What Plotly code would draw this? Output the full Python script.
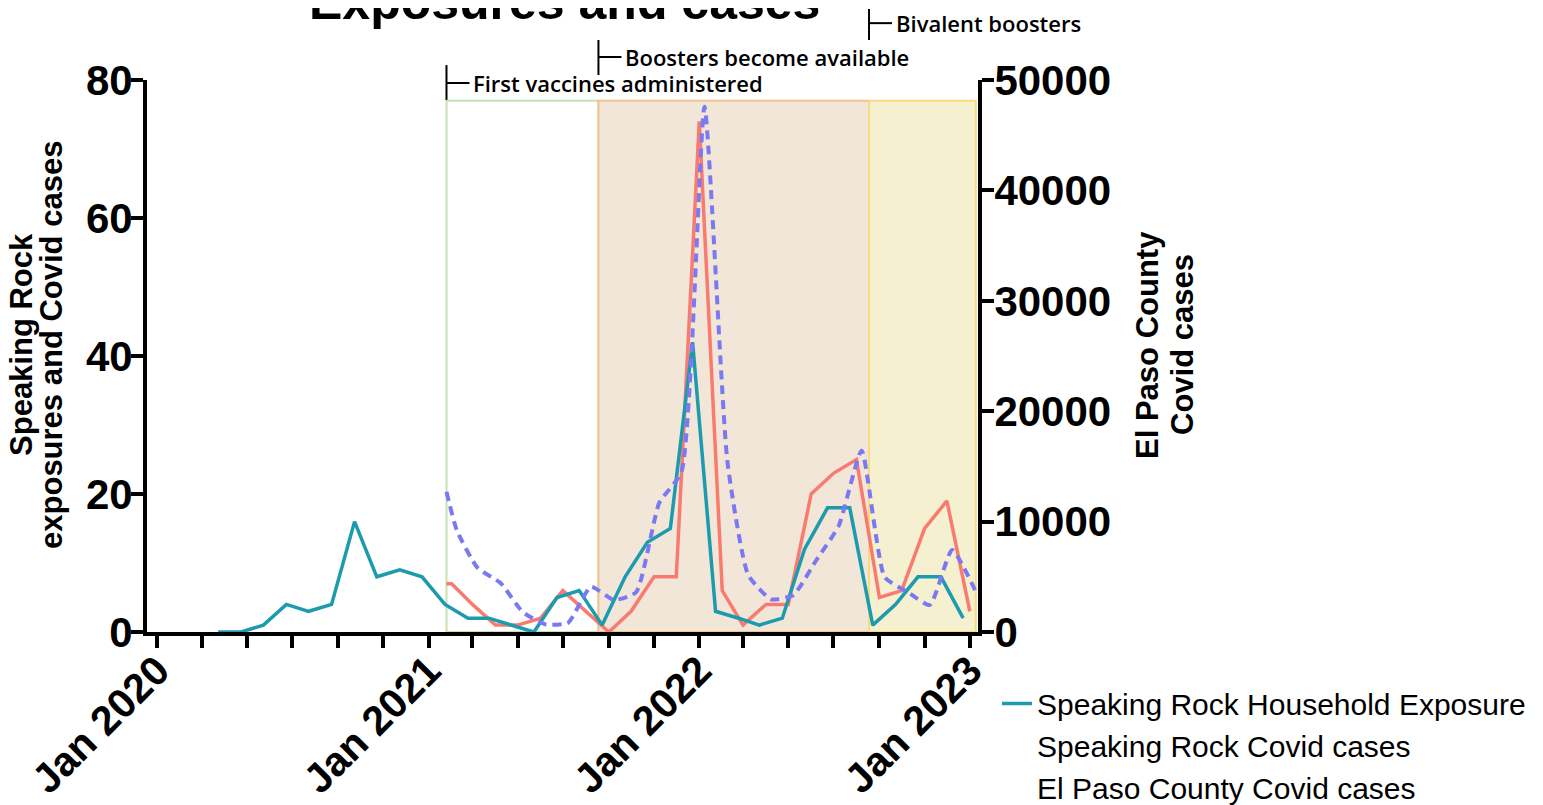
import plotly.graph_objects as go
import pandas as pd

# ---------------- data ----------------
exposure_dates = [
    "2020-03-23", "2020-04-23", "2020-05-23", "2020-06-23", "2020-07-23", "2020-08-23",
    "2020-09-23", "2020-10-23", "2020-11-23", "2020-12-23",
    "2021-01-23", "2021-02-23", "2021-03-23", "2021-04-23", "2021-05-23", "2021-06-23",
    "2021-07-23", "2021-08-23", "2021-09-23", "2021-10-23", "2021-11-23", "2021-12-23",
    "2022-01-23", "2022-02-23", "2022-03-23", "2022-04-23", "2022-05-23", "2022-06-23",
    "2022-07-23", "2022-08-23", "2022-09-23", "2022-10-23", "2022-11-23", "2022-12-23",
]
household_exposure = [0, 0, 1, 4, 3, 4, 16, 8, 9, 8,
                      4, 2, 2, 1, 0, 5, 6, 1, 8, 13, 15, 42,
                      3, 2, 1, 2, 12, 18, 18, 1, 4, 8, 8, 2]

sr_case_dates = [
    "2021-01-25", "2021-02-01", "2021-03-01", "2021-04-01", "2021-05-01", "2021-06-01",
    "2021-07-01", "2021-08-01", "2021-09-01", "2021-10-01", "2021-11-01", "2021-12-01",
    "2022-01-01", "2022-02-01", "2022-03-01", "2022-04-01", "2022-05-01", "2022-06-01",
    "2022-07-01", "2022-08-01", "2022-09-01", "2022-10-01", "2022-11-01", "2022-12-01",
    "2023-01-01",
]
sr_cases = [7, 7, 4, 1, 1, 2, 6, 3, 0, 3, 8, 8,
            74, 6, 1, 4, 4, 20, 23, 25, 5, 6, 15, 19, 3]

ep_case_dates = [
    "2021-01-25", "2021-02-08", "2021-03-08", "2021-04-08", "2021-05-08", "2021-06-08",
    "2021-07-08", "2021-08-08", "2021-09-08", "2021-10-08", "2021-11-08", "2021-12-08",
    "2022-01-08", "2022-02-08", "2022-03-08", "2022-04-08", "2022-05-08", "2022-06-08",
    "2022-07-08", "2022-08-08", "2022-09-08", "2022-10-08", "2022-11-08", "2022-12-08",
    "2023-01-08",
]
ep_cases = [12700, 9200, 5800, 4440, 1800, 680, 840, 4100, 2900, 3620, 11690, 14500,
            47580, 15400, 5160, 2960, 3350, 6520, 9600, 16420, 4980, 3670, 2450, 7430, 3800]

event_labels = ["First vaccines administered", "Boosters become available", "Bivalent boosters"]
event_dates = ["2021-01-25", "2021-08-18", "2022-08-18"]
period_end = "2023-01-09"

x_tick_dates = [
    "2020-01-01", "2020-03-01", "2020-05-01", "2020-07-01", "2020-09-01", "2020-11-01",
    "2021-01-01", "2021-03-01", "2021-05-01", "2021-07-01", "2021-09-01", "2021-11-01",
    "2022-01-01", "2022-03-01", "2022-05-01", "2022-07-01", "2022-09-01", "2022-11-01",
    "2023-01-01",
]
x_tick_labels = ["Jan 2020", "", "", "", "", "",
                 "Jan 2021", "", "", "", "", "",
                 "Jan 2022", "", "", "", "", "",
                 "Jan 2023"]

y_left_ticks = [0, 20, 40, 60, 80]
y_right_ticks = [0, 10000, 20000, 30000, 40000, 50000]
y_right_labels = ["0", "10000", "20000", "30000", "40000", "50000"]

left_title_lines = ["Speaking Rock", "exposures and Covid cases"]
right_title_lines = ["El Paso County", "Covid cases"]
chart_title = "Exposures and cases"

series_names = ["Speaking Rock Household Exposure", "Speaking Rock Covid cases",
                "El Paso County Covid cases"]

# ---------------- styles ----------------
TEAL = "#1c9bae"
RED = "#f97b70"
BLUE = "#7b79f2"
FONT = "Arial, Liberation Sans, sans-serif"

fig = go.Figure()

fig.add_trace(go.Scatter(x=sr_case_dates, y=sr_cases, mode="lines", name=series_names[1],
                         line=dict(color=RED, width=3.5), showlegend=False, yaxis="y"))
fig.add_trace(go.Scatter(x=exposure_dates, y=household_exposure, mode="lines",
                         name=series_names[0], line=dict(color=TEAL, width=3.5), yaxis="y"))
fig.add_trace(go.Scatter(x=ep_case_dates, y=ep_cases, mode="lines", name=series_names[2],
                         line=dict(color=BLUE, width=4, dash="9px,6px", shape="spline",
                                   smoothing=0.5),
                         showlegend=False, yaxis="y2"))
# legend-only entries (no visible symbol, as in the reference)
for nm in series_names[1:]:
    fig.add_trace(go.Scatter(x=[None], y=[None], mode="lines", name=nm,
                             line=dict(color="rgba(0,0,0,0)", width=3.5)))

# shaded periods
period_fill = ["#ffffff", "#f2e6d8", "#f5f0d0"]
period_line = ["#c8e0b2", "#f3c290", "#f8dc80"]
bounds = event_dates + [period_end]
for i in range(3):
    fig.add_shape(type="rect", xref="x", yref="y", x0=bounds[i], x1=bounds[i + 1],
                  y0=0, y1=77, fillcolor=period_fill[i],
                  line=dict(color=period_line[i], width=2), layer="below")

# event brackets + labels
bracket_y = [(0.964, 1.027, 0.9946), (1.009, 1.0725, 1.0417), (1.0725, 1.1286, 1.103)]
for lab, d, (y0, y1, ym) in zip(event_labels, event_dates, bracket_y):
    fig.add_shape(type="line", xref="x", yref="paper", x0=d, x1=d, y0=y0, y1=y1,
                  line=dict(color="black", width=2))
    d1 = (pd.Timestamp(d) + pd.Timedelta(days=31)).strftime("%Y-%m-%d")
    fig.add_shape(type="line", xref="x", yref="paper", x0=d, x1=d1, y0=ym, y1=ym,
                  line=dict(color="black", width=2))
    fig.add_annotation(x=d, y=ym, xref="x", yref="paper", text=lab, showarrow=False,
                       xanchor="left", yanchor="middle", xshift=25,
                       font=dict(family="Open Sans", size=22, color="black", weight=600))

# title (partially cut off at top, as in reference)
fig.add_annotation(x=0.502, y=1.141, xref="paper", yref="paper", text=chart_title,
                   showarrow=False, xanchor="center", yanchor="middle",
                   font=dict(family=FONT, size=50, color="black", weight=700))

# axis titles (two tight lines each)
for txt, xp in zip(left_title_lines, [-0.1504, -0.1143]):
    fig.add_annotation(x=xp, y=0.52, xref="paper", yref="paper", text=txt, textangle=-90,
                       showarrow=False, xanchor="center", yanchor="middle",
                       font=dict(family=FONT, size=31, color="black", weight=700))
for txt, xp in zip(right_title_lines, [1.2046, 1.2467]):
    fig.add_annotation(x=xp, y=0.52, xref="paper", yref="paper", text=txt, textangle=-90,
                       showarrow=False, xanchor="center", yanchor="middle",
                       font=dict(family=FONT, size=31, color="black", weight=700))

axis_common = dict(showgrid=False, zeroline=False, showline=True, linecolor="black",
                   linewidth=4, ticks="outside", tickcolor="black", tickwidth=4,
                   ticklen=12, automargin=False)

fig.update_layout(
    width=1535, height=797,
    margin=dict(l=139, r=565, t=72, b=173),
    paper_bgcolor="white", plot_bgcolor="white",
    font=dict(family=FONT, color="black"),
    xaxis=dict(type="date", range=["2019-12-18", "2023-01-12"],
               tickmode="array", tickvals=x_tick_dates, ticktext=x_tick_labels,
               tickangle=-45, tickfont=dict(size=41, weight=700, family=FONT),
               ticklabelstandoff=-18, **axis_common),
    yaxis=dict(range=[0, 80], tickmode="array", tickvals=y_left_ticks,
               tickfont=dict(size=42, weight=700, family=FONT),
               ticklabelstandoff=-10, **axis_common),
    yaxis2=dict(range=[0, 50000], overlaying="y", side="right", tickmode="array",
                tickvals=y_right_ticks, ticktext=y_right_labels,
                tickfont=dict(size=42, weight=700, family=FONT),
                ticklabelstandoff=-8, **axis_common),
    legend=dict(x=0.6443, y=0.16, xanchor="left", yanchor="top",
                xref="container", yref="container",
                font=dict(size=30, family=FONT, color="black"), bgcolor="rgba(0,0,0,0)",
                itemwidth=30),
    showlegend=True,
)

fig.write_html("out.html")
